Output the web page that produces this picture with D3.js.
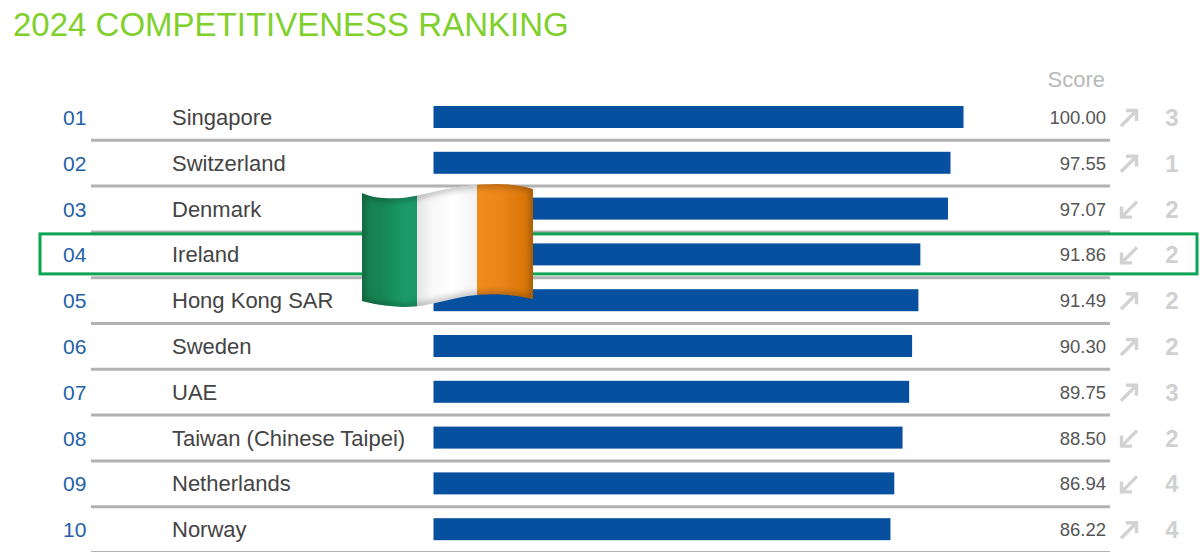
<!DOCTYPE html>
<html>
<head>
<meta charset="utf-8">
<script src="https://cdn.jsdelivr.net/npm/d3@7"></script>
<style>
html, body { margin: 0; padding: 0; background: #fff; }
svg { display: block; }
text { font-family: "Liberation Sans", Arial, sans-serif; }
</style>
</head>
<body>
<div id="chart"></div>
<script>
var ranks = ["01", "02", "03", "04", "05", "06", "07", "08", "09", "10"];
var countries = ["Singapore", "Switzerland", "Denmark", "Ireland", "Hong Kong SAR", "Sweden", "UAE", "Taiwan (Chinese Taipei)", "Netherlands", "Norway"];
var scores = [100.00, 97.55, 97.07, 91.86, 91.49, 90.30, 89.75, 88.50, 86.94, 86.22];
var directions = ["up", "up", "down", "down", "up", "up", "up", "down", "down", "up"];
var changes = [3, 1, 2, 2, 2, 2, 3, 2, 4, 4];
var highlighted = "Ireland";

var width = 1200, height = 552;

var svg = d3.select("#chart").append("svg")
    .attr("width", width)
    .attr("height", height);

var x = d3.scaleLinear().domain([0, 100]).range([433.5, 963.5]);
var y = d3.scaleBand().domain(countries).range([95, 553]);

svg.append("text")
    .attr("x", 13).attr("y", 36)
    .attr("font-size", 33)
    .attr("fill", "#7fd02c")
    .text("2024 COMPETITIVENESS RANKING");

svg.append("text")
    .attr("x", 1105).attr("y", 87)
    .attr("text-anchor", "end")
    .attr("font-size", 22)
    .attr("fill", "#b9b9b9")
    .text("Score");

var rows = svg.selectAll("g.row").data(countries).enter().append("g")
    .attr("class", "row")
    .attr("transform", function (d) { return "translate(0," + y(d) + ")"; });

rows.append("line")
    .attr("x1", 91).attr("x2", 1110)
    .attr("y1", y.bandwidth() - 0.5).attr("y2", y.bandwidth() - 0.5)
    .attr("stroke", "#b2b2b2")
    .attr("stroke-width", 3);

rows.append("text")
    .attr("x", 63).attr("y", 30)
    .attr("font-size", 21)
    .attr("fill", "#2461a8")
    .text(function (d, i) { return ranks[i]; });

rows.append("text")
    .attr("x", 172).attr("y", 30)
    .attr("font-size", 22)
    .attr("fill", "#444")
    .text(function (d) { return d; });

rows.append("rect")
    .attr("x", x(0))
    .attr("y", 11)
    .attr("width", function (d, i) { return x(scores[i]) - x(0); })
    .attr("height", 22)
    .attr("fill", "#07509f");

rows.append("text")
    .attr("x", 1106).attr("y", 29)
    .attr("text-anchor", "end")
    .attr("font-size", 18.5)
    .attr("fill", "#555")
    .text(function (d, i) { return d3.format(".2f")(scores[i]); });

// arrows point up-right or down-left, so one path is mirrored
rows.append("path")
    .attr("d", "M-8,8 L7,-7 M-3,-7.5 L7.5,-7.5 L7.5,3")
    .attr("transform", function (d, i) {
        return "translate(1129," + 23 + ")" + (directions[i] === "down" ? " rotate(180)" : "");
    })
    .attr("fill", "none")
    .attr("stroke", "#d2d2d2")
    .attr("stroke-width", 3.4);

rows.append("text")
    .attr("x", 1172).attr("y", 31)
    .attr("text-anchor", "middle")
    .attr("font-size", 24)
    .attr("font-weight", "bold")
    .attr("fill", "#d0d0d0")
    .text(function (d, i) { return changes[i]; });

// green box around the highlighted row
svg.append("rect")
    .attr("x", 40)
    .attr("y", y(highlighted) + 1.5)
    .attr("width", 1157)
    .attr("height", 40)
    .attr("fill", "none")
    .attr("stroke", "#0ba552")
    .attr("stroke-width", 3);

// flag emoji
var defs = svg.append("defs");

var flagPath = "M362,193 C372,198 388,199 402,198 C425,196 450,184 497,184 C512,184 524,186 533,189"
    + " L533,299 C520,296 505,293 477,295 C450,297 428,308 402,307 C386,306 372,304 362,301 Z";

defs.append("clipPath").attr("id", "flagClip").append("path").attr("d", flagPath);

function stripeGradient(id, stops) {
    var g = defs.append("linearGradient").attr("id", id);
    stops.forEach(function (s) {
        g.append("stop").attr("offset", s[0]).attr("stop-color", s[1]);
    });
}
stripeGradient("flagGreen", [[0, "#17804f"], [0.35, "#178553"], [0.8, "#1b9c69"], [1, "#1a9666"]]);
stripeGradient("flagWhite", [[0, "#e4e4e4"], [0.25, "#f8f8f8"], [0.6, "#ffffff"], [1, "#f3f3f3"]]);
stripeGradient("flagOrange", [[0, "#f08c1e"], [0.45, "#e9851a"], [0.8, "#dc7808"], [1, "#d0720a"]]);

var edge = defs.append("filter").attr("id", "flagBlur");
edge.append("feGaussianBlur").attr("stdDeviation", 3);

var flag = svg.append("g").attr("clip-path", "url(#flagClip)");
flag.append("rect").attr("x", 362).attr("y", 180).attr("width", 55).attr("height", 130).attr("fill", "url(#flagGreen)");
flag.append("rect").attr("x", 417).attr("y", 180).attr("width", 60).attr("height", 130).attr("fill", "url(#flagWhite)");
flag.append("rect").attr("x", 477).attr("y", 180).attr("width", 56).attr("height", 130).attr("fill", "url(#flagOrange)");
flag.append("path")
    .attr("d", flagPath)
    .attr("fill", "none")
    .attr("stroke", "#000")
    .attr("stroke-opacity", 0.3)
    .attr("stroke-width", 5)
    .attr("filter", "url(#flagBlur)");
</script>
</body>
</html>
